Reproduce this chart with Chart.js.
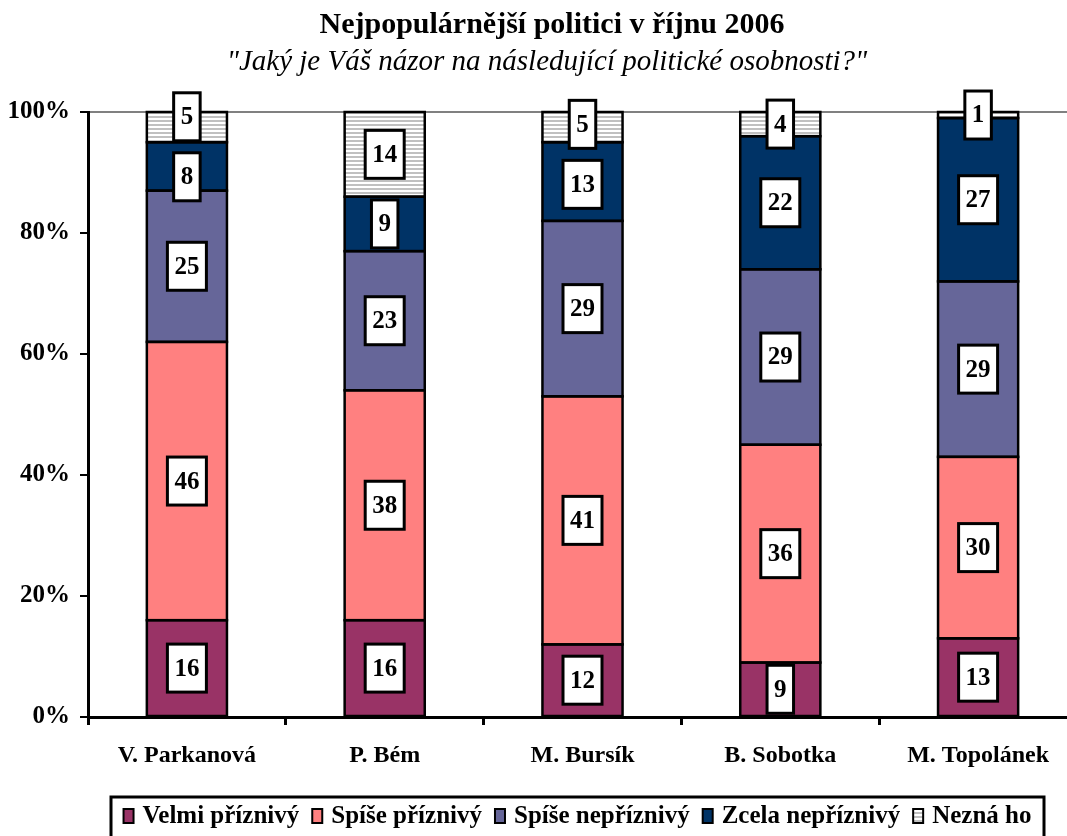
<!DOCTYPE html>
<html><head><meta charset="utf-8">
<script src="https://cdn.jsdelivr.net/npm/chart.js@4"></script>
<style>html,body{margin:0;padding:0;overflow:hidden;background:#fff}#wrap{width:1077px;height:836px}</style>
</head><body><div id="wrap"><canvas id="c" width="1077" height="836"></canvas></div>
<script>
const categories = ['V. Parkanová', 'P. Bém', 'M. Bursík', 'B. Sobotka', 'M. Topolánek'];
const seriesNames = ['Velmi příznivý', 'Spíše příznivý', 'Spíše nepříznivý', 'Zcela nepříznivý', 'Nezná ho'];
const velmiPriznivy = [16, 16, 12, 9, 13];
const spisePriznivy = [46, 38, 41, 36, 30];
const spiseNepriznivy = [25, 23, 29, 29, 29];
const zcelaNepriznivy = [8, 9, 13, 22, 27];
const neznaHo = [5, 14, 5, 4, 1];
const yTicks = [0, 20, 40, 60, 80, 100];
const titleText = 'Nejpopulárnější politici v říjnu 2006';
const subtitleText = '"Jaký je Váš názor na následující politické osobnosti?"';

const FONT = '"Liberation Serif", "Times New Roman", serif';

function stripePattern() {
  const pc = document.createElement('canvas');
  pc.width = 4; pc.height = 4;
  const p = pc.getContext('2d');
  p.fillStyle = '#ffffff'; p.fillRect(0, 0, 4, 4);
  p.fillStyle = '#c0c0c0'; p.fillRect(0, 0, 4, 2);
  return document.getElementById('c').getContext('2d').createPattern(pc, 'repeat');
}
const stripes = stripePattern();
const colors = ['#993366', '#ff8080', '#666699', '#003366', stripes];
const seriesData = [velmiPriznivy, spisePriznivy, spiseNepriznivy, zcelaNepriznivy, neznaHo];

const datasets = seriesNames.map((name, i) => ({
  label: name,
  data: seriesData[i],
  backgroundColor: colors[i],
  borderColor: '#000',
  borderWidth: 0,
  inflateAmount: 0,
  barPercentage: 1,
  categoryPercentage: 0.405
}));

const decor = {
  id: 'decor',
  afterDatasetsDraw(chart) {
    const ctx = chart.ctx;
    ctx.save();
    // bar outlines from the library's bar elements
    ctx.lineWidth = 2.5;
    ctx.strokeStyle = '#000';
    chart.data.datasets.forEach((ds, di) => {
      chart.getDatasetMeta(di).data.forEach(el => {
        const top = Math.min(el.y, el.base), bot = Math.max(el.y, el.base);
        ctx.strokeRect(el.x - el.width / 2, top, el.width, bot - top);
      });
    });
    ctx.font = 'bold 25px ' + FONT;
    ctx.textAlign = 'center';
    ctx.textBaseline = 'middle';
    const h = 48, minSep = h + 12;
    const n = chart.data.labels.length;
    for (let i = 0; i < n; i++) {
      const boxes = [];
      chart.data.datasets.forEach((ds, di) => {
        const el = chart.getDatasetMeta(di).data[i];
        boxes.push({ x: el.x, cy: (el.y + el.base) / 2, t: String(ds.data[i]) });
      });
      boxes.sort((a, b) => a.cy - b.cy);
      for (let k = 1; k < boxes.length; k++) {
        const d = boxes[k].cy - boxes[k - 1].cy;
        if (d < minSep) {
          const push = (minSep - d) / 2;
          boxes[k - 1].cy -= push;
          boxes[k].cy += push;
        }
      }
      boxes.forEach(b => {
        const w = ctx.measureText(b.t).width + 14;
        ctx.fillStyle = '#fff';
        ctx.fillRect(b.x - w / 2, b.cy - h / 2, w, h);
        ctx.lineWidth = 3;
        ctx.strokeStyle = '#000';
        ctx.strokeRect(b.x - w / 2, b.cy - h / 2, w, h);
        ctx.fillStyle = '#000';
        ctx.fillText(b.t, b.x, b.cy + 1);
      });
    }
    ctx.restore();
  },
  afterDraw(chart) {
    const ctx = chart.ctx;
    ctx.save();
    ctx.fillStyle = '#000';
    ctx.textAlign = 'center';
    ctx.textBaseline = 'alphabetic';
    ctx.font = 'bold 30px ' + FONT;
    ctx.fillText(titleText, 552, 33);
    ctx.font = 'italic 29px ' + FONT;
    ctx.fillText(subtitleText, 547, 70);
    // legend
    const bx = 111, by = 797, bw = 933, bh = 60;
    ctx.lineWidth = 3;
    ctx.strokeStyle = '#000';
    ctx.strokeRect(bx, by, bw, bh);
    ctx.font = 'bold 25px ' + FONT;
    ctx.textAlign = 'left';
    ctx.textBaseline = 'middle';
    const sq = 10, gap = 9, itemGap = 13;
    const widths = chart.data.datasets.map(d => sq + gap + ctx.measureText(d.label).width);
    const total = widths.reduce((a, b) => a + b, 0) + itemGap * (widths.length - 1);
    let x = bx + (bw - total) / 2;
    const cy = 816;
    chart.data.datasets.forEach((d, i) => {
      ctx.fillStyle = d.backgroundColor;
      ctx.fillRect(x, cy - 7, sq, 14);
      ctx.lineWidth = 2;
      ctx.strokeRect(x, cy - 7, sq, 14);
      ctx.fillStyle = '#000';
      ctx.fillText(d.label, x + sq + gap, cy + 1);
      x += widths[i] + itemGap;
    });
    ctx.restore();
  }
};

new Chart(document.getElementById('c'), {
  type: 'bar',
  data: { labels: categories, datasets },
  options: {
    responsive: false,
    devicePixelRatio: 1,
    animation: false,
    layout: { padding: { top: 112, bottom: 49, left: 0, right: 0 } },
    plugins: { legend: { display: false }, tooltip: { enabled: false }, title: { display: false } },
    scales: {
      x: {
        stacked: true,
        grid: { drawOnChartArea: false, offset: true, tickLength: 8, tickColor: '#000', lineWidth: 3 },
        border: { color: '#000', width: 3 },
        ticks: { color: '#000', font: { family: FONT, size: 24, weight: 'bold' }, padding: 16 },
        afterFit(s) { s.height = 70; }
      },
      y: {
        stacked: true,
        min: 0, max: 100,
        afterBuildTicks(s) { s.ticks = yTicks.map(v => ({ value: v })); },
        grid: {
          color: c => (c.tick && c.tick.value === 100 ? '#808080' : 'rgba(0,0,0,0)'),
          lineWidth: 2, tickLength: 8, tickColor: '#000'
        },
        border: { color: '#000', width: 3 },
        ticks: { color: '#000', font: { family: FONT, size: 25, weight: 'bold' }, padding: 10, callback: v => v + '%' },
        afterFit(s) { s.width = 88; }
      }
    }
  },
  plugins: [decor]
});
</script>
</body></html>
